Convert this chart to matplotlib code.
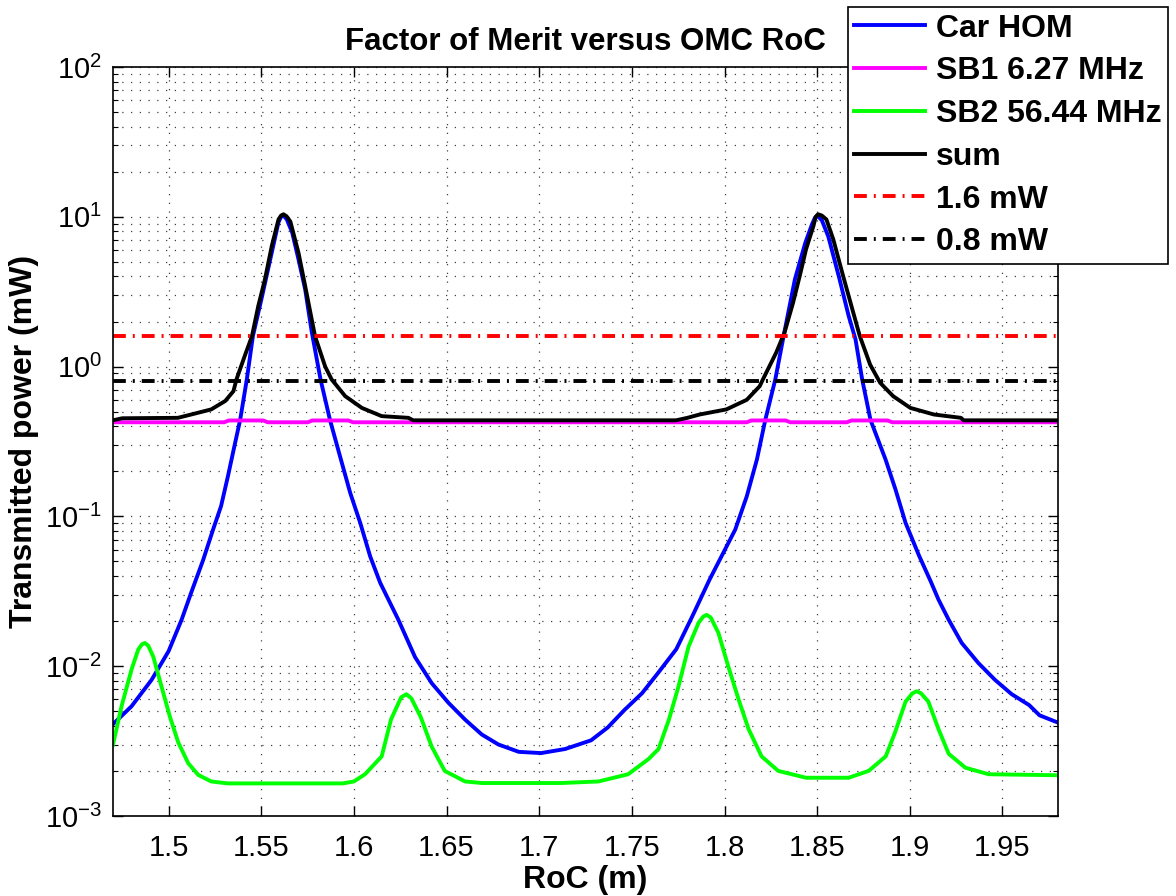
import matplotlib
matplotlib.use('Agg')
import matplotlib.pyplot as plt
from matplotlib.ticker import FixedLocator, FixedFormatter, LogLocator, NullFormatter

plt.rcParams['font.family'] = ['Liberation Sans', 'DejaVu Sans']
plt.rcParams['mathtext.fontset'] = 'custom'
plt.rcParams['mathtext.rm'] = 'Liberation Sans'
plt.rcParams['mathtext.it'] = 'Liberation Sans'
plt.rcParams['axes.unicode_minus'] = True

# --- data (RoC in m, power in mW) ---
car_roc = [1.470, 1.480, 1.4908, 1.500, 1.507, 1.5122, 1.5186, 1.524, 1.5283, 1.532,
           1.5355, 1.5386, 1.5422, 1.5455, 1.5505, 1.5557, 1.5593, 1.5607, 1.562, 1.5638,
           1.5667, 1.5701, 1.5737, 1.5773, 1.582, 1.5871, 1.5925, 1.598, 1.6034, 1.6088,
           1.6142, 1.624, 1.633, 1.642, 1.651, 1.660, 1.669, 1.678, 1.689, 1.701,
           1.714, 1.728, 1.737, 1.746, 1.7555, 1.7644, 1.774, 1.7826, 1.792, 1.799,
           1.8058, 1.812, 1.8175, 1.822, 1.8274, 1.8319, 1.838, 1.8436, 1.8472, 1.8487,
           1.850, 1.8525, 1.856, 1.8617, 1.867, 1.8707, 1.8743, 1.8788, 1.8869, 1.8923,
           1.8977, 1.9049, 1.9112, 1.9155, 1.921, 1.928, 1.937, 1.946, 1.955, 1.9644,
           1.970, 1.980]
car_pow = [0.0041, 0.0054, 0.0081, 0.0126, 0.0204, 0.031, 0.051, 0.0817, 0.117, 0.185,
           0.294, 0.44, 0.82, 1.6, 2.97, 5.8, 9.2, 10.0, 10.2, 9.6,
           7.85, 5.2, 3.28, 1.69, 0.82, 0.44, 0.252, 0.1436, 0.0906, 0.054,
           0.036, 0.0204, 0.0115, 0.0077, 0.0057, 0.0044, 0.0035, 0.0030, 0.00268, 0.00263,
           0.0028, 0.0032, 0.0039, 0.0051, 0.0066, 0.0091, 0.013, 0.0215, 0.038, 0.056,
           0.0817, 0.136, 0.24, 0.44, 0.82, 1.6, 3.83, 6.7, 8.9, 9.8,
           10.2, 9.5, 7.4, 4.0, 2.18, 1.52, 0.82, 0.44, 0.24, 0.151,
           0.0906, 0.055, 0.037, 0.0278, 0.0204, 0.0143, 0.0105, 0.0081, 0.0065, 0.0055,
           0.0047, 0.0042]

sb1_roc = [1.470, 1.530, 1.5325, 1.551, 1.5535, 1.5752, 1.5775, 1.597, 1.5995, 1.812,
           1.8145, 1.833, 1.8355, 1.866, 1.8685, 1.888, 1.8905, 1.980]
sb1_pow = [0.425, 0.425, 0.437, 0.437, 0.425, 0.425, 0.437, 0.437, 0.425, 0.425,
           0.437, 0.437, 0.425, 0.425, 0.437, 0.437, 0.425, 0.425]

sb2_roc = [1.470, 1.4746, 1.480, 1.4836, 1.4856, 1.4872, 1.489, 1.4917, 1.4962, 1.5007,
           1.5052, 1.5106, 1.516, 1.523, 1.532, 1.594, 1.600, 1.606, 1.615, 1.620,
           1.6255, 1.6283, 1.631, 1.636, 1.642, 1.649, 1.660, 1.669, 1.712, 1.732,
           1.748, 1.759, 1.7644, 1.770, 1.775, 1.7806, 1.786, 1.7885, 1.7903, 1.7925,
           1.7967, 1.802, 1.8076, 1.813, 1.820, 1.829, 1.844, 1.867, 1.8778, 1.887,
           1.892, 1.8977, 1.9015, 1.9037, 1.906, 1.910, 1.9155, 1.921, 1.930, 1.9425,
           1.980]
sb2_pow = [0.0030, 0.0054, 0.0095, 0.0129, 0.0140, 0.0143, 0.0137, 0.0116, 0.0073, 0.0046,
           0.0031, 0.00225, 0.00188, 0.0017, 0.00165, 0.00165, 0.0017, 0.0019, 0.0025, 0.0044,
           0.0062, 0.0065, 0.0061, 0.0046, 0.0029, 0.0020, 0.0017, 0.00166, 0.00166, 0.0017,
           0.0019, 0.0024, 0.0028, 0.0044, 0.0072, 0.0135, 0.0195, 0.0214, 0.022, 0.0212,
           0.0167, 0.010, 0.006, 0.0038, 0.0025, 0.0020, 0.0018, 0.0018, 0.0020, 0.0025,
           0.0036, 0.0058, 0.0066, 0.0068, 0.0066, 0.0058, 0.0038, 0.0026, 0.0021, 0.0019,
           0.00187]

sum_roc = [1.470, 1.475, 1.505, 1.5122, 1.523, 1.5306, 1.535, 1.5366, 1.541, 1.545,
           1.5484, 1.552, 1.5557, 1.5593, 1.5607, 1.562, 1.5636, 1.5657, 1.5701, 1.5737,
           1.579, 1.5845, 1.588, 1.5953, 1.6043, 1.615, 1.6294, 1.632, 1.7738, 1.780,
           1.7866, 1.801, 1.812, 1.819, 1.8207, 1.8279, 1.8324, 1.837, 1.8406, 1.844,
           1.848, 1.8492, 1.8505, 1.8525, 1.855, 1.8587, 1.864, 1.8695, 1.873, 1.8786,
           1.884, 1.891, 1.9003, 1.913, 1.9276, 1.929, 1.980]
sum_pow = [0.438, 0.452, 0.455, 0.479, 0.518, 0.59, 0.686, 0.82, 1.17, 1.6,
           2.54, 3.83, 6.4, 9.6, 10.2, 10.4, 10.1, 9.3, 5.75, 3.45,
           1.6, 1.0, 0.82, 0.635, 0.53, 0.467, 0.455, 0.438, 0.438, 0.455,
           0.479, 0.518, 0.60, 0.74, 0.82, 1.24, 1.69, 2.67, 4.03, 6.07,
           8.7, 10.0, 10.4, 10.2, 9.6, 7.07, 4.03, 2.29, 1.6, 1.03,
           0.78, 0.635, 0.53, 0.479, 0.455, 0.438, 0.438]

thr_high = 1.6
thr_low = 0.8

x_ticks = [1.5, 1.55, 1.6, 1.65, 1.7, 1.75, 1.8, 1.85, 1.9, 1.95]
x_labels = ['1.5', '1.55', '1.6', '1.65', '1.7', '1.75', '1.8', '1.85', '1.9', '1.95']
y_ticks = [1e-3, 1e-2, 1e-1, 1e0, 1e1, 1e2]
y_labels = [r'$10^{-3}$', r'$10^{-2}$', r'$10^{-1}$', r'$10^{0}$', r'$10^{1}$', r'$10^{2}$']

fig = plt.figure(figsize=(11.76, 8.96), dpi=100)
ax = fig.add_axes([0.0961, 0.0893, 0.8036, 0.8359])

lw = 2.8
dashdot = (0, (3.3, 1.8, 0.5, 1.8))
ax.plot(car_roc, car_pow, color='#0000ff', lw=lw, label='Car HOM')
ax.plot(sb1_roc, sb1_pow, color='#ff00ff', lw=lw, label='SB1 6.27 MHz')
ax.plot(sb2_roc, sb2_pow, color='#00ff00', lw=lw, label='SB2 56.44 MHz')
ax.plot(sum_roc, sum_pow, color='black', lw=lw, label='sum')
ax.axhline(thr_high, color='#ff0000', lw=lw, linestyle=dashdot, label='1.6 mW')
ax.axhline(thr_low, color='black', lw=lw, linestyle=dashdot, label='0.8 mW')

ax.set_yscale('log')
ax.set_xlim(1.47, 1.98)
ax.set_ylim(1e-3, 1e2)

ax.xaxis.set_major_locator(FixedLocator(x_ticks))
ax.xaxis.set_major_formatter(FixedFormatter(x_labels))
ax.yaxis.set_major_locator(FixedLocator(y_ticks))
ax.yaxis.set_major_formatter(FixedFormatter(y_labels))
ax.yaxis.set_minor_locator(LogLocator(base=10, subs=range(2, 10), numticks=20))
ax.yaxis.set_minor_formatter(NullFormatter())

ax.tick_params(which='both', direction='in', top=True, right=True, labelsize=21)
ax.tick_params(axis='x', pad=13)
ax.tick_params(axis='y', pad=8)
ax.tick_params(which='major', length=7, width=1)
ax.tick_params(which='minor', length=3.5, width=0.8)

dots = (0, (1, 6))
ax.grid(True, which='major', axis='both', color='0.25', linestyle=dots, lw=0.9)
ax.grid(True, which='minor', axis='y', color='0.25', linestyle=dots, lw=0.9)
for s in ax.spines.values():
    s.set_linewidth(1.2)

ax.set_xlabel('RoC (m)', fontsize=23, fontweight='bold', labelpad=2)
ax.set_ylabel('Transmitted power (mW)', fontsize=23, fontweight='bold', labelpad=4)
ax.set_title('Factor of Merit versus OMC RoC', fontsize=22.5, fontweight='bold', pad=12)

leg = ax.legend(loc='upper right', bbox_to_anchor=(0.993, 0.992), bbox_transform=fig.transFigure,
                borderaxespad=0, fancybox=False, framealpha=1, edgecolor='black',
                borderpad=0.2, handlelength=2.2, handletextpad=0.35, labelspacing=0.4,
                prop={'weight': 'bold', 'size': 23})
leg.get_frame().set_linewidth(1.2)

fig.savefig('out.png', dpi=100)
